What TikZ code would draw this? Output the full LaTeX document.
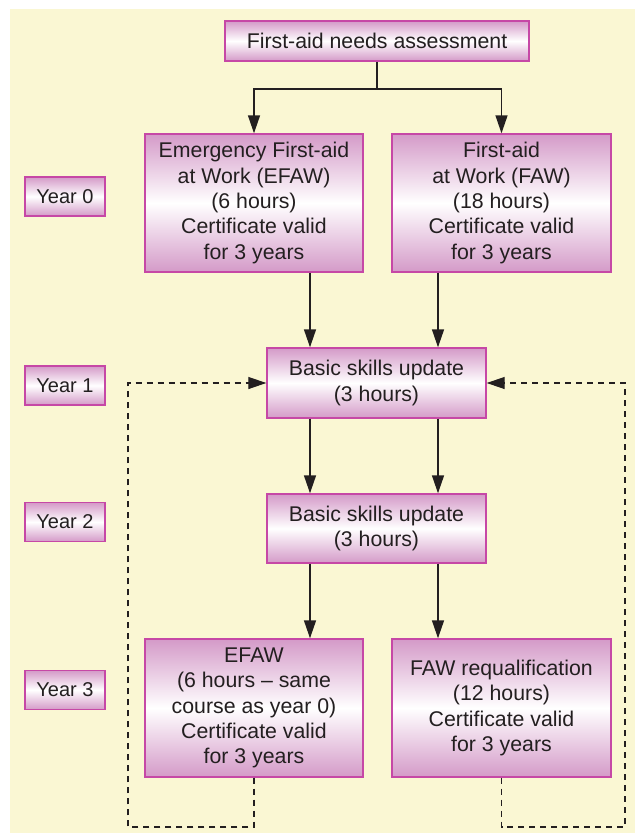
\documentclass[tikz,border=0pt]{standalone}
\usepackage{fontspec}
\setmainfont{Liberation Sans}
\usetikzlibrary{arrows.meta}
\definecolor{cream}{RGB}{250,247,211}
\definecolor{boxpink}{RGB}{212,154,200}
\definecolor{boxedge}{RGB}{198,72,166}
\definecolor{ink}{RGB}{35,31,32}
\tikzset{
  course/.style={draw=boxedge, line width=1.4pt, top color=boxpink, bottom color=boxpink,
    middle color=white, align=center, text=ink, inner sep=0pt,
    font=\fontsize{21.3}{25.4}\selectfont},
  yearbox/.style={course, minimum width=80pt, minimum height=39pt,
    font=\fontsize{20}{24}\selectfont},
  flow/.style={draw=ink, line width=1.4pt, -{Triangle[length=18pt,width=12pt]}},
  plain/.style={draw=ink, line width=1.4pt},
  loop/.style={draw=ink, line width=1.2pt, dash pattern=on 6pt off 5pt,
    -{Triangle[length=18pt,width=12pt]}}
}
\begin{document}
\begin{tikzpicture}[x=1pt, y=-1pt]
  \useasboundingbox (0,0) rectangle (635,835);
  \fill[white] (0,0) rectangle (635,835);
  \fill[cream] (10,9) rectangle (635,833);

  % course boxes
  \node[course, minimum width=304pt, minimum height=40pt] (top) at (377,41) {First-aid needs assessment};
  \node[course, minimum width=218pt, minimum height=138pt] (efaw0) at (254,203)
    {Emergency First-aid\\at Work (EFAW)\\(6 hours)\\Certificate valid\\for 3 years};
  \node[course, minimum width=219pt, minimum height=138pt] (faw0) at (501.5,203)
    {First-aid\\at Work (FAW)\\(18 hours)\\Certificate valid\\for 3 years};
  \node[course, minimum width=219pt, minimum height=70pt] (basic1) at (376.5,383)
    {Basic skills update\\(3 hours)};
  \node[course, minimum width=219pt, minimum height=69pt] (basic2) at (376.5,528.5)
    {Basic skills update\\(3 hours)};
  \node[course, minimum width=218pt, minimum height=138pt] (efaw3) at (254,708)
    {EFAW\\(6 hours -- same\\course as year 0)\\Certificate valid\\for 3 years};
  \node[course, minimum width=219pt, minimum height=138pt] (faw3) at (501.5,708)
    {FAW requalification\\(12 hours)\\Certificate valid\\for 3 years};

  % year labels
  \node[yearbox] (y0) at (65,196.5) {Year 0};
  \node[yearbox] (y1) at (65,385.5) {Year 1};
  \node[yearbox] (y2) at (65,522) {Year 2};
  \node[yearbox] (y3) at (65,690) {Year 3};

  % helper coordinates
  \coordinate (split) at (377,89);
  \coordinate (lx) at (310,0);
  \coordinate (rx) at (438,0);
  \coordinate (loopL) at (128,827);
  \coordinate (loopR) at (625,827);

  % assessment splits into the two courses
  \draw[plain] (top.south) -- (split);
  \draw[flow] (split) -| (efaw0.north);
  \draw[flow] (split) -| (faw0.north);

  % yearly progression
  \draw[flow] (efaw0.south -| lx) -- (basic1.north -| lx);
  \draw[flow] (faw0.south -| rx) -- (basic1.north -| rx);
  \draw[flow] (basic1.south -| lx) -- (basic2.north -| lx);
  \draw[flow] (basic1.south -| rx) -- (basic2.north -| rx);
  \draw[flow] (basic2.south -| lx) -- (efaw3.north -| lx);
  \draw[flow] (basic2.south -| rx) -- (faw3.north -| rx);

  % three-year cycle back to the skills update
  \draw[loop] (efaw3.south) |- (loopL) |- (basic1.west);
  \draw[loop] (faw3.south) |- (loopR) |- (basic1.east);
\end{tikzpicture}
\end{document}
